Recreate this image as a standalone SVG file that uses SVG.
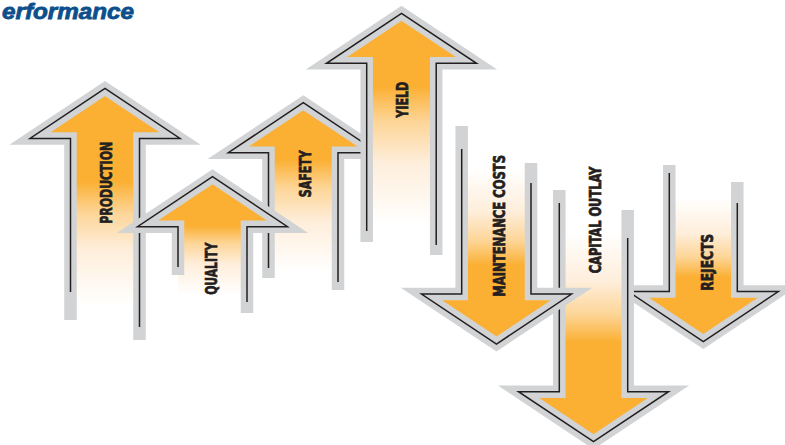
<svg xmlns="http://www.w3.org/2000/svg" width="785" height="445" viewBox="0 0 785 445">
<style>
.g{fill:none;stroke:#d1d3d4;stroke-width:12.5;stroke-linejoin:miter;stroke-miterlimit:6;stroke-linecap:butt}
.k{fill:none;stroke:#231f20;stroke-width:1.5;stroke-linejoin:miter;stroke-miterlimit:6}
.t{font-family:"Liberation Sans Narrow","DejaVu Sans Condensed","Liberation Sans",sans-serif;font-weight:bold;font-size:16px;fill:#231f20;stroke:#231f20;stroke-width:0.7;text-anchor:middle}
.title{font-family:"Liberation Sans","Arial",sans-serif;font-weight:bold;font-style:italic;font-size:22px;fill:#0d4f8b;stroke:#0d4f8b;stroke-width:0.8}
</style>
<defs>
<linearGradient id="fade" x1="0" y1="0" x2="0" y2="1">
<stop offset="0" stop-color="#fbb034"/>
<stop offset="0.25" stop-color="#fdd597"/>
<stop offset="0.55" stop-color="#feeedb"/>
<stop offset="1" stop-color="#ffffff"/>
</linearGradient>
<linearGradient id="gP" href="#fade" gradientUnits="userSpaceOnUse" x1="0" y1="182" x2="0" y2="305"/>
<linearGradient id="gQ" href="#fade" gradientUnits="userSpaceOnUse" x1="0" y1="226" x2="0" y2="295"/>
<linearGradient id="gS" href="#fade" gradientUnits="userSpaceOnUse" x1="0" y1="160" x2="0" y2="272"/>
<linearGradient id="gY" href="#fade" gradientUnits="userSpaceOnUse" x1="0" y1="87" x2="0" y2="225"/>
<linearGradient id="gM" href="#fade" gradientUnits="userSpaceOnUse" x1="0" y1="265" x2="0" y2="168"/>
<linearGradient id="gC" href="#fade" gradientUnits="userSpaceOnUse" x1="0" y1="342" x2="0" y2="232"/>
<linearGradient id="gR" href="#fade" gradientUnits="userSpaceOnUse" x1="0" y1="277" x2="0" y2="198"/>
</defs>
<rect width="785" height="445" fill="#ffffff"/>
<text class="title" x="2" y="19" textLength="132" lengthAdjust="spacingAndGlyphs">erformance</text>

<g id="production">
<path fill="url(#gP)" d="M70.5,330 V138.5 H30 L105,88.5 L180,138.5 H139.5 V330 Z"/>
<path class="g" d="M70.5,320 V138.5 H30 L105,88.5 L180,138.5 H139.5 V340"/>
<path class="k" d="M70.5,292 V138.5 H30 L105,88.5 L180,138.5 H139.5 V327"/>
<text class="t" transform="translate(111.7,182.8) rotate(-90)" textLength="82" lengthAdjust="spacingAndGlyphs">PRODUCTION</text>
</g>

<g id="safety">
<path fill="url(#gS)" d="M268.5,285 V152.7 H228.3 L303.3,102.7 L378.3,152.7 H338 V285 Z"/>
<path class="g" d="M268.5,278 V152.7 H228.3 L303.3,102.7 L378.3,152.7 H338 V290"/>
<path class="k" d="M268.5,268 V152.7 H228.3 L303.3,102.7 L378.3,152.7 H338 V282"/>
<text class="t" transform="translate(311,173.7) rotate(-90)" textLength="47" lengthAdjust="spacingAndGlyphs">SAFETY</text>
</g>

<g id="yield">
<path fill="url(#gY)" d="M366.7,250 V63.3 H326.5 L401.5,13.3 L476.5,63.3 H436.2 V250 Z"/>
<path class="g" d="M366.7,242 V63.3 H326.5 L401.5,13.3 L476.5,63.3 H436.2 V255"/>
<path class="k" d="M366.7,231 V63.3 H326.5 L401.5,13.3 L476.5,63.3 H436.2 V245"/>
<text class="t" transform="translate(408.3,99.7) rotate(-90)" textLength="36" lengthAdjust="spacingAndGlyphs">YIELD</text>
</g>

<g id="quality">
<path fill="url(#gQ)" d="M178,305 V226.7 H137.5 L212.5,176.7 L287.5,226.7 H247 V305 Z"/>
<path class="g" d="M178,275 V226.7 H137.5 L212.5,176.7 L287.5,226.7 H247 V313"/>
<path class="k" d="M178,267 V226.7 H137.5 L212.5,176.7 L287.5,226.7 H247 V302"/>
<text class="t" transform="translate(217.3,268.8) rotate(-90)" textLength="52" lengthAdjust="spacingAndGlyphs">QUALITY</text>
</g>

<g id="rejects">
<path fill="url(#gR)" d="M669.3,170 V291.5 H628.3 L703.3,341.5 L778.3,291.5 H737.3 V170 Z"/>
<path class="g" d="M669.3,165 V291.5 H628.3 L703.3,341.5 L778.3,291.5 H737.3 V182"/>
<path class="k" d="M669.3,173 V291.5 H628.3 L703.3,341.5 L778.3,291.5 H737.3 V203"/>
<text class="t" transform="translate(713.3,262.3) rotate(-90)" textLength="56.7" lengthAdjust="spacingAndGlyphs">REJECTS</text>
</g>

<g id="capital-outlay">
<path fill="url(#gC)" d="M559.3,195 V391.7 H518.5 L593.5,441.7 L668.5,391.7 H627.7 V195 Z"/>
<path class="g" d="M559.3,190 V391.7 H518.5 L593.5,441.7 L668.5,391.7 H627.7 V210"/>
<path class="k" d="M559.3,203 V391.7 H518.5 L593.5,441.7 L668.5,391.7 H627.7 V238"/>
<text class="t" transform="translate(601,220) rotate(-90)" textLength="106.7" lengthAdjust="spacingAndGlyphs">CAPITAL OUTLAY</text>
</g>

<g id="maintenance-costs">
<path fill="url(#gM)" d="M461.7,130 V294 H421.5 L496.5,344 L571.5,294 H531 V130 Z"/>
<path class="g" d="M461.7,126 V294 H421.5 L496.5,344 L571.5,294 H531 V163"/>
<path class="k" d="M461.7,149 V294 H421.5 L496.5,344 L571.5,294 H531 V183"/>
<text class="t" transform="translate(505,225.8) rotate(-90)" textLength="141.7" lengthAdjust="spacingAndGlyphs">MAINTENANCE COSTS</text>
</g>

<g id="connectors"></g>
</svg>
